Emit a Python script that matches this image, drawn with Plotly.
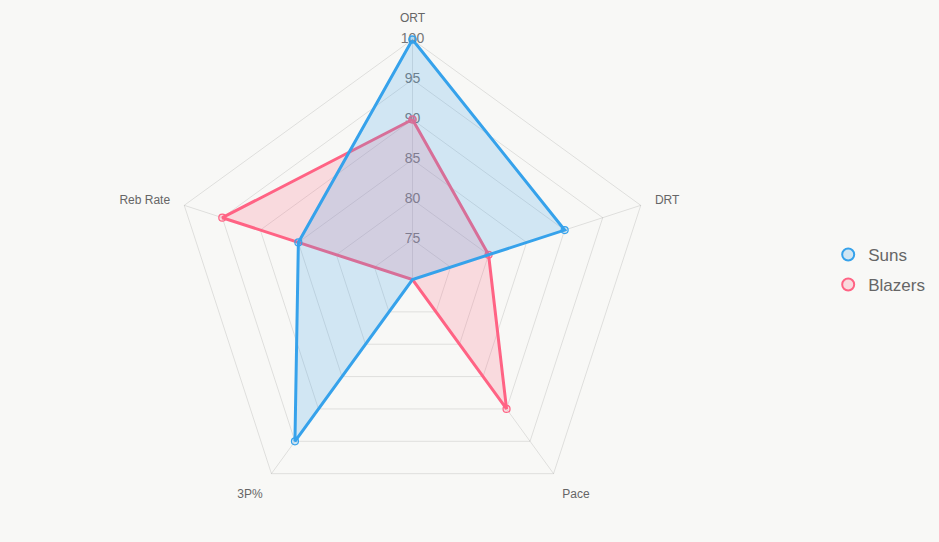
import plotly.graph_objects as go

categories = ["ORT", "DRT", "Pace", "3P%", "Reb Rate"]
suns = [100, 90, 70, 95, 85]
blazers = [90, 80, 90, 70, 95]
tick_vals = [75, 80, 85, 90, 95, 100]
tick_text = [str(v) for v in tick_vals]

BLUE = "rgb(54,162,235)"
BLUE_F = "rgba(54,162,235,0.2)"
PINK = "rgb(255,99,132)"
PINK_F = "rgba(255,99,132,0.2)"
BG = "#f8f8f6"
FONT = "Liberation Sans, Arial, Helvetica, sans-serif"
W, H = 939, 542
cx, cy, R = 412.5, 279.5, 240

fig = go.Figure()

# radial tick labels centred on the ORT spoke
fig.add_trace(go.Scatterpolar(
    r=tick_vals, theta=[categories[0]] * len(tick_vals), mode="text",
    text=tick_text, textposition="middle center",
    textfont=dict(family=FONT, size=14, color="#777"),
    showlegend=False, hoverinfo="skip"))

def closed(v):
    return v + v[:1]

for name, vals, line, fillc in [("Blazers", blazers, PINK, PINK_F), ("Suns", suns, BLUE, BLUE_F)]:
    fig.add_trace(go.Scatterpolar(
        r=closed(vals), theta=closed(categories), mode="lines+markers",
        fill="toself", fillcolor=fillc, name=name,
        line=dict(color=line, width=3),
        marker=dict(size=7, color=fillc, line=dict(color=line, width=1.2)),
        showlegend=False))

# legend entries
for name, line, fillc in [("Suns", BLUE, BLUE_F), ("Blazers", PINK, PINK_F)]:
    fig.add_trace(go.Scatterpolar(
        r=[None], theta=[None], mode="markers", name=name, legendgroup=name,
        marker=dict(symbol="circle", size=15, color=fillc, line=dict(color=line, width=1.5)),
        showlegend=True))

fig.update_layout(
    width=W, height=H,
    margin=dict(l=0, r=0, t=0, b=0),
    paper_bgcolor=BG, plot_bgcolor=BG,
    polar=dict(
        bgcolor=BG,
        domain=dict(x=[(cx - R) / W, (cx + R) / W], y=[(H - cy - R) / H, (H - cy + R) / H]),
        gridshape="linear",
        radialaxis=dict(range=[70, 100], tickvals=tick_vals, showticklabels=False,
                        showline=False, ticks="", gridcolor="rgba(0,0,0,0.1)", gridwidth=1),
        angularaxis=dict(rotation=90, direction="clockwise", showline=True,
                         linecolor="rgba(0,0,0,0.1)", gridcolor="rgba(0,0,0,0.1)",
                         ticks="outside", ticklen=12, tickcolor="rgba(0,0,0,0)",
                         tickfont=dict(family=FONT, size=12, color="#666")),
    ),
    legend=dict(x=0.882, y=0.502, xanchor="left", yanchor="middle",
                font=dict(family=FONT, size=17, color="#666"),
                bgcolor="rgba(0,0,0,0)", itemsizing="constant", tracegroupgap=5),
    showlegend=True,
)

fig.write_html("out.html")
